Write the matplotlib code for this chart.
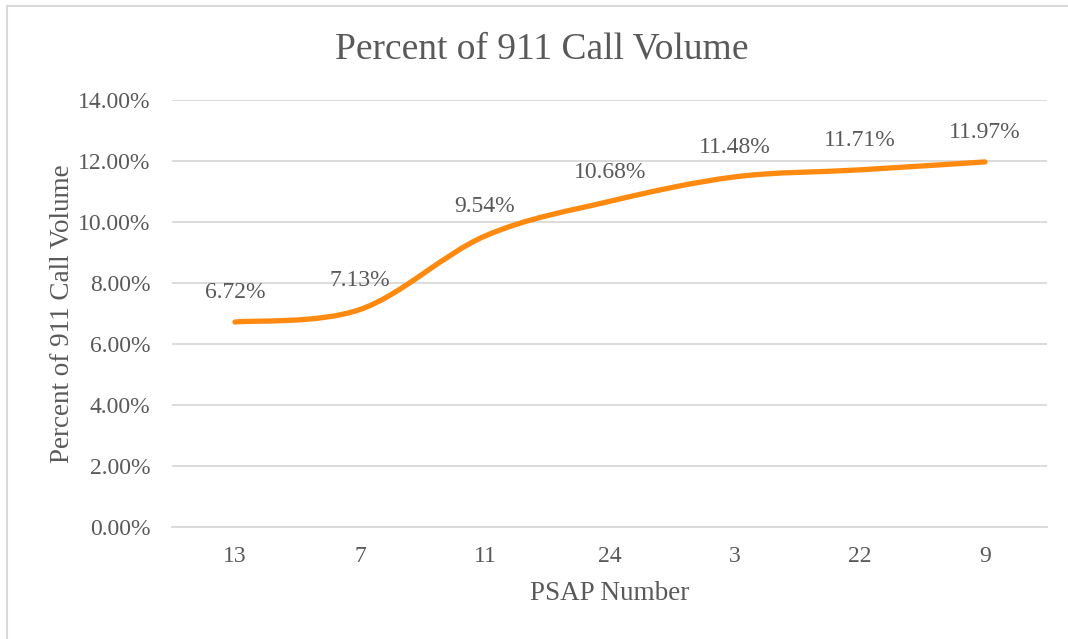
import matplotlib.pyplot as plt
import numpy as np
from matplotlib.path import Path
from matplotlib.patches import PathPatch
from matplotlib.lines import Line2D
from matplotlib.ticker import FuncFormatter

# PSAP numbers in chart order and their share of 911 call volume (%)
psap = ["13", "7", "11", "24", "3", "22", "9"]
share = [6.72, 7.13, 9.54, 10.68, 11.48, 11.71, 11.97]

TEXT = "#595959"
GRID = "#D9D9D9"
ORANGE = "#FF8A0F"

plt.rcParams["font.family"] = ["Liberation Serif", "DejaVu Serif"]


def smooth_path(x, y):
    # Excel-like smoothed line: Catmull-Rom segments as cubic Beziers
    pts = np.column_stack([x, y]).astype(float)
    ext = np.vstack([pts[0], pts, pts[-1]])
    verts = [pts[0]]
    codes = [Path.MOVETO]
    for i in range(len(pts) - 1):
        p0, p1, p2, p3 = ext[i], ext[i + 1], ext[i + 2], ext[i + 3]
        verts += [p1 + (p2 - p0) / 6, p2 - (p3 - p1) / 6, p2]
        codes += [Path.CURVE4] * 3
    return Path(verts, codes)


def main():
    fig = plt.figure(figsize=(10.68, 6.39), dpi=100)
    ax = fig.add_axes([0.1615, 0.1753, 0.8193, 0.6682])

    x = np.arange(len(psap))
    ax.add_patch(PathPatch(smooth_path(x, share), fill=False, edgecolor=ORANGE,
                           lw=3.8, capstyle="round", zorder=3))

    for xi, v in zip(x, share):
        ax.annotate(f"{v:.2f}%", (xi, v), xytext=(0, 21), textcoords="offset points",
                    ha="center", va="center", fontsize=17, color=TEXT)

    ax.set_xlim(-0.5, len(psap) - 0.5)
    ax.set_ylim(0, 14)
    ax.set_yticks(np.arange(0, 15, 2))
    ax.yaxis.set_major_formatter(FuncFormatter(lambda v, _: f"{v:.2f}%"))
    ax.set_xticks(x)
    ax.set_xticklabels(psap)
    ax.tick_params(length=0, labelsize=17, labelcolor=TEXT)
    ax.tick_params(axis="x", pad=14)
    ax.tick_params(axis="y", pad=16)
    ax.grid(axis="y", color=GRID, lw=1.3)
    ax.set_axisbelow(True)
    for s in ax.spines.values():
        s.set_visible(False)
    ax.spines["bottom"].set_visible(True)
    ax.spines["bottom"].set_color(GRID)
    ax.spines["bottom"].set_linewidth(1.3)

    ax.set_xlabel("PSAP Number", fontsize=19.5, color=TEXT, labelpad=10)
    ax.set_ylabel("Percent of 911 Call Volume", fontsize=19.5, color=TEXT, labelpad=2)
    fig.text(0.507, 0.923, "Percent of 911 Call Volume", ha="center", va="center",
             fontsize=27, color=TEXT)

    # chart frame (left and top edges visible)
    fig.add_artist(Line2D([7 / 1068, 7 / 1068], [0, 1 - 6 / 639], color=GRID, lw=1.5))
    fig.add_artist(Line2D([7 / 1068, 1], [1 - 6 / 639, 1 - 6 / 639], color=GRID, lw=1.5))

    fig.savefig("out.png", dpi=100)


main()
